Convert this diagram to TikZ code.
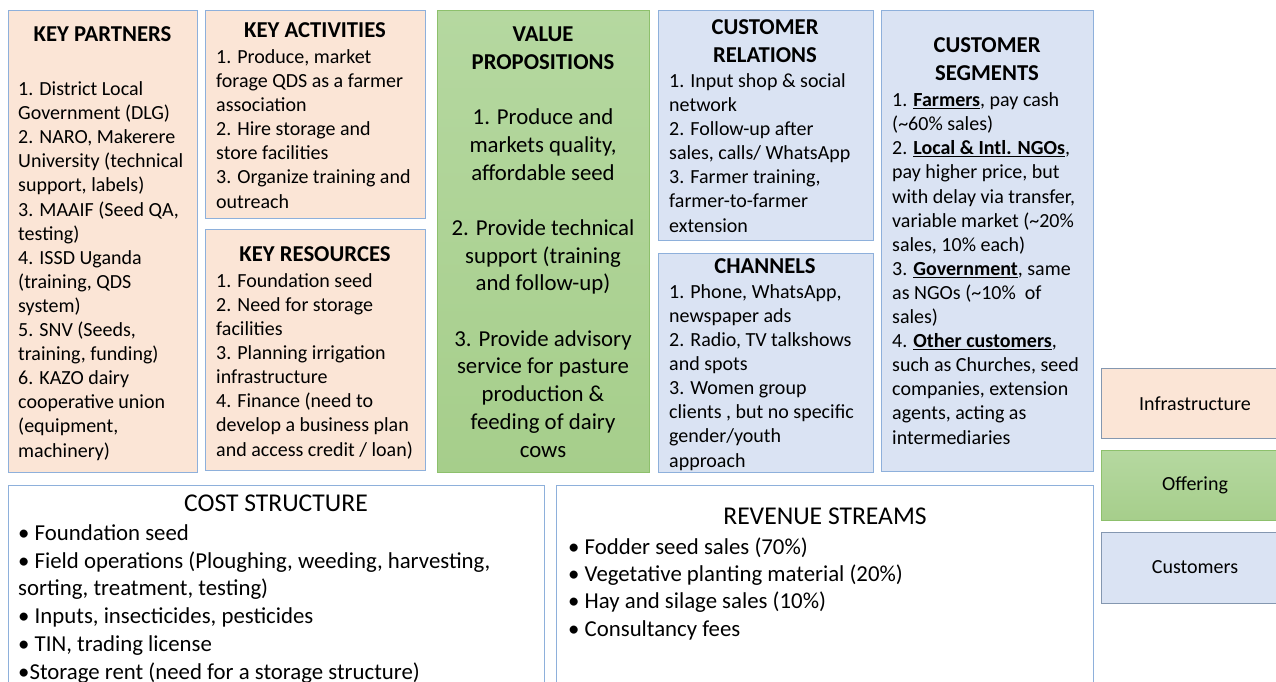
\documentclass[tikz,border=0pt]{standalone}
\usepackage{fontspec}
\setmainfont{Carlito}
\definecolor{peach}{HTML}{FBE5D6}
\definecolor{lblue}{HTML}{DAE3F3}
\definecolor{bblue}{HTML}{8EB0DB}
\definecolor{gtop}{HTML}{B5D8A0}
\definecolor{gbot}{HTML}{A6CE8B}
\definecolor{gbord}{HTML}{8DC06C}
\definecolor{slate}{HTML}{8497B0}
\newcommand{\ulb}[1]{\underline{\textbf{#1}}}
\begin{document}
\begin{tikzpicture}[x=1pt,y=-1pt,
  box/.style={draw=bblue, line width=1.4pt, anchor=north west, inner sep=0pt},
  txt/.style={font=\fontsize{20}{24.1}\selectfont, align=left, inner sep=0pt, anchor=base west},
  ttl/.style={font=\bfseries\fontsize{22.7}{28}\selectfont, align=center, inner sep=0pt, anchor=base},
  big/.style={font=\fontsize{22.8}{27.7}\selectfont, inner sep=0pt, anchor=base west, align=left},
  leg/.style={font=\fontsize{20}{24}\selectfont, inner sep=0pt}
]
\useasboundingbox (0,0) rectangle (1276,681);
\clip (0,0) rectangle (1276,681);

% boxes
\node[box, fill=peach, minimum width=189pt, minimum height=462pt] (kp) at (8,10) {};
\node[box, fill=peach, minimum width=220pt, minimum height=208pt] (ka) at (205,10) {};
\node[box, fill=peach, minimum width=220pt, minimum height=241pt] (kr) at (205,229) {};
\node[box, draw=gbord, top color=gtop, bottom color=gbot, minimum width=212pt, minimum height=462pt] (vp) at (437,10) {};
\node[box, fill=lblue, minimum width=215pt, minimum height=230pt] (cr) at (658,10) {};
\node[box, fill=lblue, minimum width=215pt, minimum height=219pt] (ch) at (658,253) {};
\node[box, fill=lblue, minimum width=212pt, minimum height=461pt] (cs) at (881,10) {};
\node[box, fill=white, minimum width=536pt, minimum height=230pt] (cost) at (8,485) {};
\node[box, fill=white, minimum width=537pt, minimum height=230pt] (rev) at (556,485) {};
\node[box, draw=slate, fill=peach, minimum width=190pt, minimum height=70pt] (infra) at (1101,368) {};
\node[box, draw=gbord, top color=gtop, bottom color=gbot, minimum width=190pt, minimum height=70pt] (off) at (1101,450) {};
\node[box, draw=slate, fill=lblue, minimum width=190pt, minimum height=71pt] (cust) at (1101,532) {};

% Key partners (anchor = baseline of last line)
\node[ttl] (kpt) at (102.5,41) {KEY PARTNERS};
\node[txt] (kpx) at (18,457) {1. District Local\\Government (DLG)\\2. NARO, Makerere\\University (technical\\support, labels)\\3. MAAIF (Seed QA,\\testing)\\4. ISSD Uganda\\(training, QDS\\system)\\5. SNV (Seeds,\\training, funding)\\6. KAZO dairy\\cooperative union\\(equipment,\\machinery)};

% Key activities
\node[ttl] (kat) at (315,37) {KEY ACTIVITIES};
\node[txt] (kax) at (216,208) {1. Produce, market\\forage QDS as a farmer\\association\\2. Hire storage and\\store facilities\\3. Organize training and\\outreach};

% Key resources
\node[ttl] (krt) at (315,261) {KEY RESOURCES};
\node[txt] (krx) at (216,456) {1. Foundation seed\\2. Need for storage\\facilities\\3. Planning irrigation\\infrastructure\\4. Finance (need to\\develop a business plan\\and access credit / loan)};

% Value propositions
\node[ttl] (vpt) at (543,69) {VALUE\\PROPOSITIONS};
\node[big, align=center, anchor=base] (vpx) at (543,457) {1. Produce and\\markets quality,\\affordable seed\\~\\2. Provide technical\\support (training\\and follow-up)\\~\\3. Provide advisory\\service for pasture\\production \&\\feeding of dairy\\cows};

% Customer relations
\node[ttl] (crt) at (765,62) {CUSTOMER\\RELATIONS};
\node[txt] (crx) at (669,232) {1. Input shop \& social\\network\\2. Follow-up after\\sales, calls/ WhatsApp\\3. Farmer training,\\farmer-to-farmer\\extension};

% Channels
\node[ttl] (cht) at (765,273) {CHANNELS};
\node[txt] (chx) at (669,467) {1. Phone, WhatsApp,\\newspaper ads\\2. Radio, TV talkshows\\and spots\\3. Women group\\clients , but no specific\\gender/youth\\approach};

% Customer segments
\node[ttl] (cst) at (987,80) {CUSTOMER\\SEGMENTS};
\node[txt] (csx) at (892,444) {1. \ulb{Farmers}, pay cash\\(\textasciitilde60\% sales)\\2. \ulb{Local \& Intl. NGOs},\\pay higher price, but\\with delay via transfer,\\variable market (\textasciitilde20\%\\sales, 10\% each)\\3. \ulb{Government}, same\\as NGOs (\textasciitilde10\%\ \ of\\sales)\\4. \ulb{Other customers},\\such as Churches, seed\\companies, extension\\agents, acting as\\intermediaries};

% Cost structure
\node[font=\fontsize{25.6}{30}\selectfont, inner sep=0pt, anchor=base] (costt) at (276,511) {COST STRUCTURE};
\node[big] (costx) at (18,679) {• Foundation seed\\• Field operations (Ploughing, weeding, harvesting,\\sorting, treatment, testing)\\• Inputs, insecticides, pesticides\\• TIN, trading license\\•Storage rent (need for a storage structure)};

% Revenue streams
\node[font=\fontsize{25.6}{30}\selectfont, inner sep=0pt, anchor=base] (revt) at (825,524) {REVENUE STREAMS};
\node[big, font=\fontsize{22.8}{27.3}\selectfont] (revx) at (568,636) {• Fodder seed sales (70\%)\\• Vegetative planting material (20\%)\\• Hay and silage sales (10\%)\\• Consultancy fees};

% Legend
\node[leg] (infrat) at (1195,404) {Infrastructure};
\node[leg] (offt) at (1195,485) {Offering};
\node[leg] (custt) at (1195,567) {Customers};
\end{tikzpicture}
\end{document}
